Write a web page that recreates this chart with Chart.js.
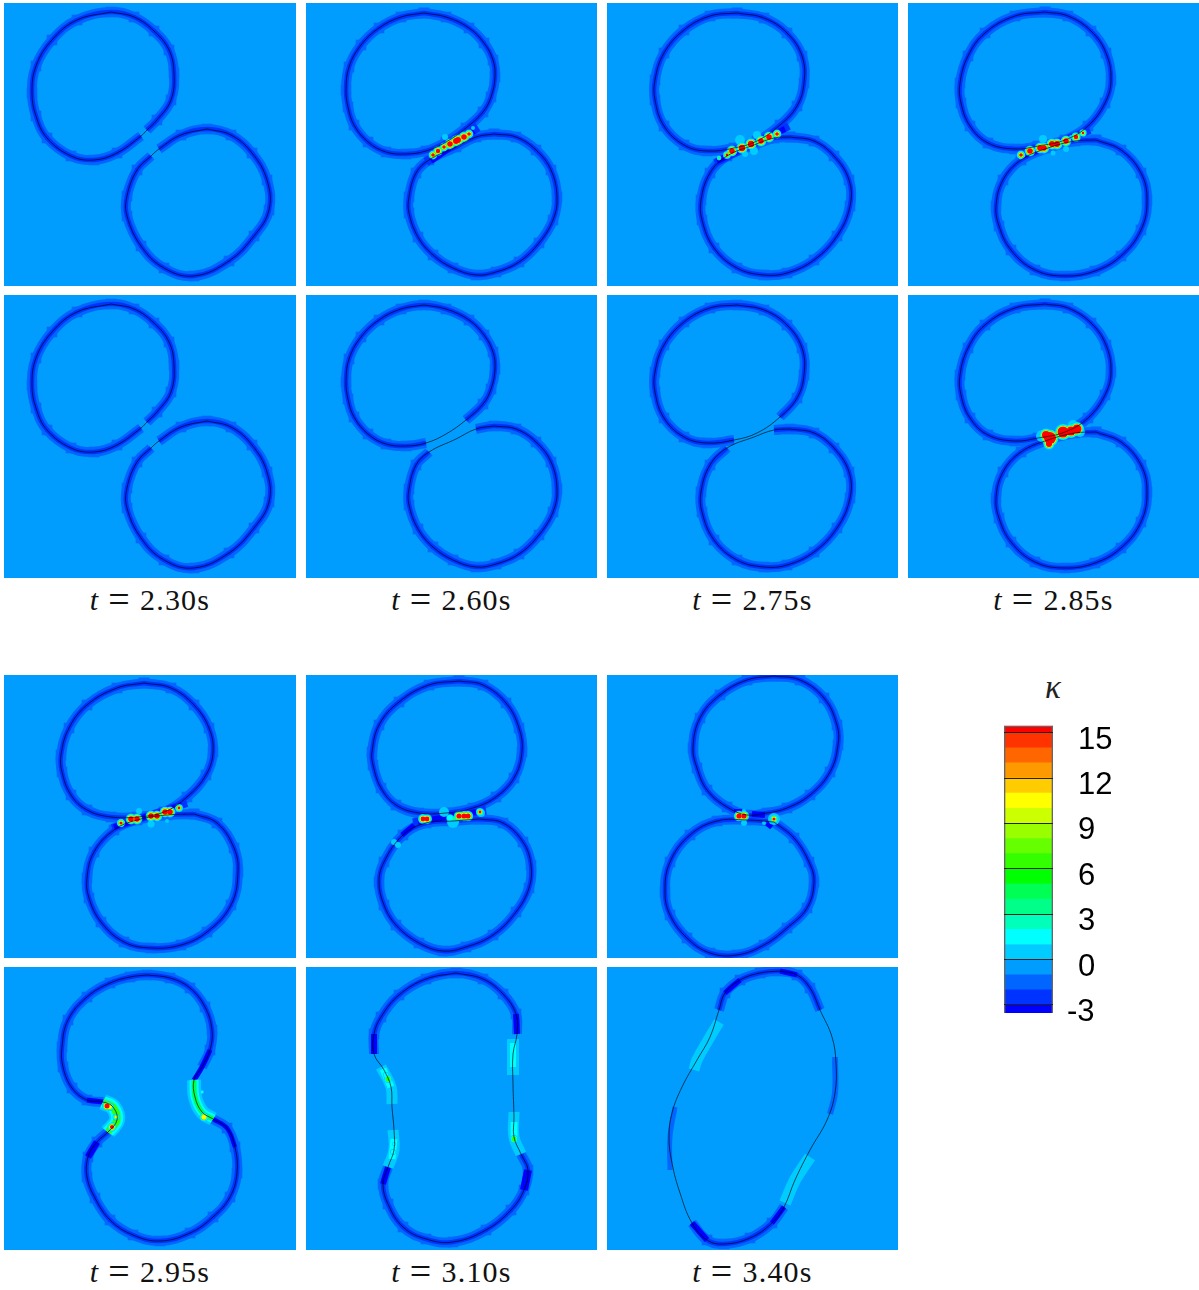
<!DOCTYPE html>
<html>
<head>
<meta charset="utf-8">
<title>Curvature during droplet coalescence</title>
<script src="https://cdn.jsdelivr.net/npm/chart.js@4"></script>
<style>
  html, body { margin: 0; padding: 0; background: #fff; }
  #page { position: relative; width: 1199px; height: 1290px; overflow: hidden; }
  canvas { position: absolute; }
  .caption {
    position: absolute; width: 240px; text-align: center; color: #111;
    font-family: "Liberation Serif", serif; font-size: 30px; line-height: 34px;
    letter-spacing: 1.2px; white-space: nowrap;
  }
  .caption b { font-weight: normal; font-size: 38px; line-height: 30px; margin: 0 9px; vertical-align: -2px; }
  .kappa { position: absolute; left: 1033px; top: 672px; width: 40px; text-align: center;
    font-family: "Liberation Serif", serif; font-style: italic; font-size: 33px; line-height: 30px; color: #222; }
</style>
</head>
<body>
<div id="page"></div>
<script>
// times shown under the panel pairs
const times = ['2.30', '2.60', '2.75', '2.85', '2.95', '3.10', '3.40'];

// colourbar: band edges, band colours, labelled ticks
const barEdges = [-3.53, -3, -2, -1, 0, 1, 2, 3, 4, 5, 6, 7, 8, 9, 10, 11, 12, 13, 14, 15, 15.46];
const barColors = ['#0000ff', '#0033ff', '#0066ff', '#009dff', '#00ccff', '#00ffff', '#00ffbb', '#00ff88', '#00ff55', '#00ff00',
  '#33ff00', '#66ff00', '#99ff00', '#ccff00', '#ffff00', '#ffcc00', '#ff9900', '#ff6600', '#ff3300', '#ff0000'];
const barTicks = [15, 12, 9, 6, 3, 0, -3];

// interface outlines, [x, y] inside a panel
const upper230 = [[107,9],[130,14],[150,28],[165,47],[170,70],[167,97],[153,117],[143,127],[137,133],[113,150],[90,157],[67,153],[43,135],[32,113],[28,90],[32,63],[48,37],[73,17]];
const lower230 = [[203,126],[227,132],[248,150],[263,177],[265,207],[250,233],[225,258],[190,273],[160,265],[137,243],[123,213],[123,193],[133,167],[147,153],[155,146],[177,132]];
const upper260 = [[118,10],[140,14],[163,25],[178,40],[187,57],[189,74],[185,94],[177,109],[160,125],[140,139],[120,148],[100,151],[80,149],[62,139],[48,122],[42,104],[40,87],[43,64],[55,42],[73,25],[95,14]];
const lower260 = [[188,131],[210,134],[230,147],[245,167],[251,194],[247,217],[233,240],[213,259],[190,269],[170,272],[147,265],[127,252],[112,234],[103,210],[103,194],[110,170],[123,157],[150,144],[170,134]];
const upper275 = [[130,10],[157,15],[180,30],[195,53],[197,80],[190,103],[173,122],[150,138],[127,145],[100,148],[77,142],[57,123],[48,97],[48,77],[57,50],[77,27],[103,13]];
const lower275 = [[183,134],[207,138],[227,153],[242,177],[243,203],[230,233],[207,257],[180,270],[157,272],[130,265],[107,245],[95,217],[94,197],[103,170],[120,153],[147,142],[167,135]];
const upper285 = [[137,9],[160,13],[183,28],[198,50],[203,77],[197,100],[180,123],[157,137],[130,143],[107,146],[80,140],[62,123],[53,100],[52,80],[60,53],[77,30],[107,13]];
const lower285 = [[188,137],[213,147],[233,170],[239,197],[233,227],[213,253],[187,268],[157,273],[127,267],[103,247],[91,223],[88,203],[95,177],[113,157],[140,145],[167,138]];
const upper295 = [[140,8],[167,13],[190,30],[205,53],[209,77],[202,100],[183,122],[160,137],[133,142],[107,142],[83,135],[67,120],[58,97],[57,80],[65,53],[83,30],[113,13]];
const lower295 = [[190,139],[213,148],[230,173],[234,197],[227,230],[203,257],[177,270],[147,273],[120,267],[97,247],[85,223],[83,203],[90,177],[110,155],[133,145],[163,140]];
const upper310 = [[153,6],[177,10],[200,28],[213,53],[216,77],[208,103],[190,122],[167,133],[140,138],[113,138],[90,130],[75,113],[67,90],[66,77],[73,50],[93,27],[123,10]];
const lower310 = [[173,144],[197,148],[217,167],[225,190],[223,213],[210,237],[187,260],[160,272],[137,276],[113,268],[90,250],[78,230],[73,207],[78,187],[97,160],[120,148],[147,146]];
const upper340 = [[167,1],[193,5],[217,23],[230,50],[231,70],[223,97],[203,120],[180,133],[160,138],[140,140],[120,132],[100,115],[90,93],[86,73],[93,43],[113,20],[140,5]];
const lower340 = [[167,147],[187,163],[202,187],[207,207],[200,233],[180,253],[157,270],[130,280],[103,278],[80,263],[63,240],[58,217],[63,187],[83,160],[110,146],[140,145]];
const merged295 = [[143,8],[166,11],[186,21],[201,40],[208,63],[206,83],[198,100],[190,113],[191,130],[198,145],[209,152],[223,161],[231,180],[233,206],[226,230],[209,250],[186,266],[156,274],[129,268],[106,253],[91,231],[83,210],[84,190],[93,175],[104,165],[113,153],[109,140],[99,135],[83,133],[68,121],[59,100],[58,80],[64,53],[83,30],[106,16],[126,10]];
const merged310 = [[150,6],[177,12],[197,27],[210,47],[211,67],[207,87],[207,117],[208,150],[208,170],[215,187],[222,203],[218,223],[205,243],[180,263],[147,275],[120,272],[97,260],[82,237],[77,217],[82,200],[88,183],[88,163],[86,140],[85,120],[78,103],[68,87],[68,67],[75,50],[93,28],[120,12]];
const merged340 = [[173,4],[190,8],[203,21],[213,43],[225,70],[229,96],[228,126],[220,153],[203,183],[188,213],[177,240],[165,256],[143,271],[117,277],[100,273],[85,256],[73,226],[65,196],[62,170],[65,146],[75,120],[90,93],[103,70],[112,43],[118,26],[133,13],[153,6]];

// curvature peaks: [x, y, peak kappa, radius of the peak contour]
const peaks260 = [[139,134,0.5,3],[167,125,0.5,2],[127,152,15.2,1.8],[132,148,15.2,2.2],[138,144,15.2,1.8],[144,141,15.2,2.8],[150,138,15.2,3],[152,137,15.2,3],[158,134,15.2,2.8],[163,131,15.2,1.8]];
const peaks275 = [[133,137,0.5,5],[150,132,0.5,4],[147,148,0.5,4],[138,151,0.5,3],[112,155,6.5,1],[120,152,15.2,1.4],[125,148,15.2,2.8],[135,145,15.2,3.2],[144,141,15.2,3.2],[154,138,15.2,2.8],[162,134,15.2,2.8],[170,131,15.2,1.8]];
const peaks285 = [[135,136,0.5,4],[158,146,0.5,3],[145,150,0.5,2.5],[163,134,0.5,2],[113,152,15.2,1.8],[122,148,15.2,2.8],[132,145,15.2,2.8],[136,145,15.2,2.8],[144,141,15.2,3],[149,141,15.2,3],[158,138,15.2,2.8],[168,134,15.2,2.2],[175,130,15.2,1.2]];
const peaks285Late = [[134,141,0.5,6],[141,150,0.5,4],[165,130,0.5,5],[172,137,0.5,5],[141,143,1.5,7],[155,137,1.5,6],[164,135,1.5,5],[169,134,1.5,5],[138,140,15.2,4],[142,143,15.2,6],[141,149,15.2,3],[155,137,15.2,5.5],[163,136,15.2,4.5],[169,134,15.2,4.5]];
const peaks295 = [[135,136,0.5,3],[147,149,0.5,3.5],[163,146,0.5,2],[117,148,15.2,1.6],[127,144,15.2,2.8],[133,144,15.2,2.8],[147,141,15.2,2.8],[153,141,15.2,2.8],[161,137,15.2,2.8],[166,137,15.2,2.8],[175,133,15.2,1.4]];
const peaks310 = [[138,137,0.5,5],[147,147,0.5,6],[144,143,1.5,3],[148,144,6.5,1],[88,167,0.5,3],[92,170,0.5,3],[175,138,0.5,4],[117,144,15.2,2.4],[121,144,15.2,2.4],[153,141,15.2,2.6],[158,141,15.2,2.6],[162,141,15.2,2.6],[174,137,15.2,1.4]];
const peaks340 = [[137,148,0.5,3],[137,136,0.5,2],[157,148,0.5,2],[167,144,0.5,6],[167,144,4.5,3],[132,141,15.2,2.6],[137,141,15.2,2.6],[167,144,15.2,1.6]];
const peaksMerged295 = [[103,139,15.2,2.5],[108,160,15.2,2],[106,140,10.5,2],[112,150,10.5,1.5],[200,150,10.5,2.5],[198,125,4.5,2]];
const peaksMerged310 = [[82,112,6.5,2.5],[80,108,4.5,3],[87,185,4.5,3],[88,177,4.5,2],[208,172,6.5,2.5]];

// kappa levels drawn as nested contours round a peak
const peakLevels = [0.5, 1.5, 6.5, 10.5, 15.2];

const colX = [4, 306, 607, 908];
const colW = [292, 291, 291, 291];
const rowY = [3, 295, 675, 967];
const panelH = 283;

// follow an outline from one vertex to another, wrapping round
function along(curve, from, to) {
  const out = [];
  let i = from;
  do {
    out.push(curve[i]);
    i = (i + 1) % curve.length;
  } while (i !== to);
  out.push(curve[to]);
  return out;
}

function xy(points) {
  return points.map(p => ({ x: p[0], y: p[1] }));
}

// kappa value to the colour of its colourbar band
function kappaColor(k) {
  for (let i = 0; i < barColors.length; i++) {
    if (k >= barEdges[i] && k < barEdges[i + 1]) return barColors[i];
  }
  return barColors[barColors.length - 1];
}

// rings: [curve index, from, to], from === to is a full loop
// arcs: [points, kappa, line width]
const panels = [
  { col: 0, row: 0, curves: [upper230, lower230], rings: [[0, 8, 7], [1, 14, 13]], arcs: [], peaks: [] },
  { col: 1, row: 0, curves: [upper260, lower260], rings: [[0, 0, 0], [1, 0, 0]],
    arcs: [[[[120,159],[172,124]], -2.5, 9], [[[125,158],[168,128]], -3.2, 6]], peaks: peaks260 },
  { col: 2, row: 0, curves: [upper275, lower275], rings: [[0, 0, 0], [1, 0, 0]],
    arcs: [[[[108,160],[182,123]], -2.5, 8], [[[110,158],[178,126]], -3.2, 6]], peaks: peaks275 },
  { col: 3, row: 0, curves: [upper285, lower285], rings: [[0, 0, 0], [1, 0, 0]],
    arcs: [[[[110,155],[182,127]], -2.5, 8], [[[112,154],[178,129]], -3.2, 6]], peaks: peaks285 },
  { col: 0, row: 1, curves: [upper230, lower230], rings: [[0, 8, 7], [1, 14, 13]], arcs: [], peaks: [] },
  { col: 1, row: 1, curves: [upper260, lower260], rings: [[0, 10, 8], [1, 18, 16]], arcs: [], peaks: [] },
  { col: 2, row: 1, curves: [upper275, lower275], rings: [[0, 8, 6], [1, 16, 14]], arcs: [], peaks: [] },
  { col: 3, row: 1, curves: [upper285, lower285], rings: [[0, 0, 0], [1, 0, 0]], arcs: [], peaks: peaks285Late },
  { col: 0, row: 2, curves: [upper295, lower295], rings: [[0, 0, 0], [1, 0, 0]],
    arcs: [[[[108,153],[183,128]], -2.5, 8], [[[110,152],[178,130]], -3.2, 6]], peaks: peaks295 },
  { col: 1, row: 2, curves: [upper310, lower310], rings: [[0, 0, 0], [1, 0, 0]],
    arcs: [[[[107,148],[180,135]], -2.5, 9], [[[112,147],[170,137]], -3.2, 6], [[[96,160],[108,150]], -3.2, 5]], peaks: peaks310 },
  { col: 2, row: 2, curves: [upper340, lower340], rings: [[0, 0, 0], [1, 0, 0]],
    arcs: [[[[127,137],[135,137]], -3.2, 6], [[[145,139],[158,140]], -3.2, 6], [[[160,148],[165,152]], -3.2, 6]], peaks: peaks340 },
  { col: 0, row: 3, curves: [merged295], rings: [[0, 10, 24], [0, 27, 6]],
    arcs: [
      [along(merged295, 5, 7), -3.2, 5], [along(merged295, 10, 12), -3.2, 4], [along(merged295, 22, 23), -3.2, 7], [along(merged295, 27, 28), -3.2, 5],
      [along(merged295, 7, 10), 0.5, 14], [along(merged295, 7, 10), 1.5, 9], [along(merged295, 7, 10), 4.5, 5],
      [along(merged295, 24, 27), 0.5, 16], [along(merged295, 24, 27), 1.5, 12], [along(merged295, 24, 27), 6.5, 7]
    ], peaks: peaksMerged295 },
  { col: 1, row: 3, curves: [merged310], rings: [[0, 25, 4], [0, 9, 19]],
    arcs: [
      [along(merged310, 3, 4), -3.2, 6], [along(merged310, 25, 26), -3.2, 6], [along(merged310, 10, 11), -3.2, 8], [along(merged310, 18, 19), -3.2, 6],
      [[[207,72],[207,108]], 0.5, 12], [[[207,76],[207,100]], 1.5, 6],
      [[[208,145],[208,170],[215,187]], 0.5, 11], [[[208,155],[208,172]], 1.5, 7],
      [[[75,100],[85,120],[86,137]], 0.5, 11], [[[77,102],[85,120]], 1.5, 7],
      [[[87,163],[88,183],[82,200]], 0.5, 11], [[[88,172],[86,192]], 1.5, 7]
    ], peaks: peaksMerged310 },
  { col: 2, row: 3, curves: [merged340], rings: [[0, 23, 3], [0, 10, 15]],
    arcs: [
      [along(merged340, 24, 25), -3.2, 5], [along(merged340, 0, 1), -3.2, 5], [along(merged340, 14, 15), -3.2, 6], [along(merged340, 10, 11), -3.2, 5],
      [[[228,90],[228,126],[223,147]], -1.5, 6], [[[68,140],[63,170],[63,203]], -1.5, 5],
      [[[112,55],[103,70],[90,93],[87,103]], 0.5, 11], [[[203,190],[188,213],[178,236]], 0.5, 12]
    ], peaks: [] }
];

const page = document.getElementById('page');

function lineSet(points, color, width, extra) {
  return Object.assign({
    data: xy(points), showLine: true, borderColor: color, borderWidth: width,
    backgroundColor: color, pointRadius: 0, tension: 0.4, borderCapStyle: 'butt'
  }, extra || {});
}

// blocky band: square markers on the vertices, none on the ends of an open arc
function bandSet(ring, curves, kappa, width, block) {
  const pts = along(curves[ring[0]], ring[1], ring[2]);
  const open = ring[1] !== ring[2];
  const radius = pts.map((p, i) => (open && (i === 0 || i === pts.length - 1)) ? 0 : block);
  return lineSet(pts, kappaColor(kappa), width, { pointRadius: radius, pointStyle: 'rect', pointBorderWidth: 0 });
}

panels.forEach(panel => {
  const layers = [];

  // blue contour bands round the interface
  panel.rings.forEach(r => layers.push(bandSet(r, panel.curves, -1.5, 10, 7.5)));
  panel.rings.forEach(r => layers.push(bandSet(r, panel.curves, -2.5, 4.5, 2.5)));

  panel.arcs.forEach(a => layers.push(lineSet(a[0], kappaColor(a[1]), a[2])));

  // nested contours of the curvature peaks
  const offsets = [2.6, 1.9, 1.2, 0.6, 0];
  peakLevels.forEach((level, n) => {
    const spots = panel.peaks.filter(p => p[2] >= level);
    if (!spots.length) return;
    layers.push({
      data: xy(spots), showLine: false, backgroundColor: kappaColor(level), borderWidth: 0,
      pointStyle: 'circle',
      pointRadius: spots.map(p => p[3] + offsets[n] - offsets[peakLevels.indexOf(p[2]) >= 0 ? peakLevels.indexOf(p[2]) : 0])
    });
  });

  // the interface itself
  panel.curves.forEach(c => {
    const closed = along(c, 0, 0);
    layers.push(lineSet(closed, 'rgba(0,0,0,0.8)', 0.8));
  });

  // later layers go on top
  layers.forEach((d, i) => { d.order = -i; });

  const w = colW[panel.col];
  const canvas = document.createElement('canvas');
  canvas.width = w;
  canvas.height = panelH;
  canvas.style.left = colX[panel.col] + 'px';
  canvas.style.top = rowY[panel.row] + 'px';
  canvas.style.background = kappaColor(-0.5);
  page.appendChild(canvas);

  new Chart(canvas.getContext('2d'), {
    type: 'scatter',
    data: { datasets: layers },
    options: {
      responsive: false,
      animation: false,
      events: [],
      layout: { autoPadding: false },
      plugins: { legend: { display: false }, tooltip: { enabled: false }, title: { display: false } },
      scales: {
        x: { type: 'linear', min: 0, max: w, display: false },
        y: { type: 'linear', min: 0, max: panelH, reverse: true, display: false }
      }
    }
  });
});

// captions under rows 2 and 4
const captionCols = [0, 1, 2, 3, 0, 1, 2];
const captionTops = [583, 583, 583, 583, 1255, 1255, 1255];
times.forEach((t, i) => {
  const div = document.createElement('div');
  div.className = 'caption';
  div.style.left = (colX[captionCols[i]] + colW[captionCols[i]] / 2 - 120) + 'px';
  div.style.top = captionTops[i] + 'px';
  div.innerHTML = '<i>t</i><b>=</b>' + t + 's';
  page.appendChild(div);
});

// colourbar
const kappaLabel = document.createElement('div');
kappaLabel.className = 'kappa';
kappaLabel.textContent = 'κ';
page.appendChild(kappaLabel);

const barCanvas = document.createElement('canvas');
barCanvas.width = 199;
barCanvas.height = 360;
barCanvas.style.left = '960px';
barCanvas.style.top = '670px';
page.appendChild(barCanvas);

const barSets = barColors.map((c, i) => ({
  data: [[barEdges[i], barEdges[i + 1]]], backgroundColor: c, borderWidth: 0,
  barPercentage: 1, categoryPercentage: 1, grouped: false, order: 2
}));
barSets.push({
  data: [[barEdges[0], barEdges[barEdges.length - 1]]], backgroundColor: 'transparent',
  borderColor: '#666', borderWidth: 1, barPercentage: 1, categoryPercentage: 1, grouped: false, order: 1
});

const barMin = barEdges[0], barMax = barEdges[barEdges.length - 1];
const labelShift = 0.49; // labels sit a little below their contour lines

// the vertical padding the tick labels ask for would shrink the bar
function fixBox(width) {
  return s => { s.width = width; s.paddingTop = 0; s.paddingBottom = 0; };
}

new Chart(barCanvas.getContext('2d'), {
  type: 'bar',
  data: { labels: ['κ'], datasets: barSets },
  options: {
    responsive: false,
    animation: false,
    events: [],
    layout: { autoPadding: false, padding: { left: 44, top: 55.7, bottom: 17 } },
    plugins: { legend: { display: false }, tooltip: { enabled: false } },
    scales: {
      x: { display: false },
      y: {
        position: 'left', min: barMin, max: barMax, afterFit: fixBox(0),
        border: { display: false },
        grid: { z: 1, color: '#222', lineWidth: 1, drawTicks: false },
        ticks: { display: false, stepSize: 3, includeBounds: false }
      },
      labels: {
        position: 'right', min: barMin + labelShift, max: barMax + labelShift,
        afterFit: fixBox(106),
        border: { display: false }, grid: { display: false, drawTicks: false },
        afterBuildTicks: s => { s.ticks = barTicks.filter(v => v >= 0).map(v => ({ value: v })); },
        ticks: { padding: 25, crossAlign: 'near', color: '#000', callback: v => String(v), font: { family: '"Liberation Sans"', size: 31 } }
      },
      labelsNeg: {
        position: 'left', min: barMin + labelShift, max: barMax + labelShift,
        afterFit: fixBox(0),
        border: { display: false }, grid: { display: false, drawTicks: false },
        afterBuildTicks: s => { s.ticks = barTicks.filter(v => v < 0).map(v => ({ value: v })); },
        ticks: { mirror: true, padding: 63, crossAlign: 'near', color: '#000', callback: v => String(v), font: { family: '"Liberation Sans"', size: 31 } }
      }
    }
  }
});
</script>
</body>
</html>
